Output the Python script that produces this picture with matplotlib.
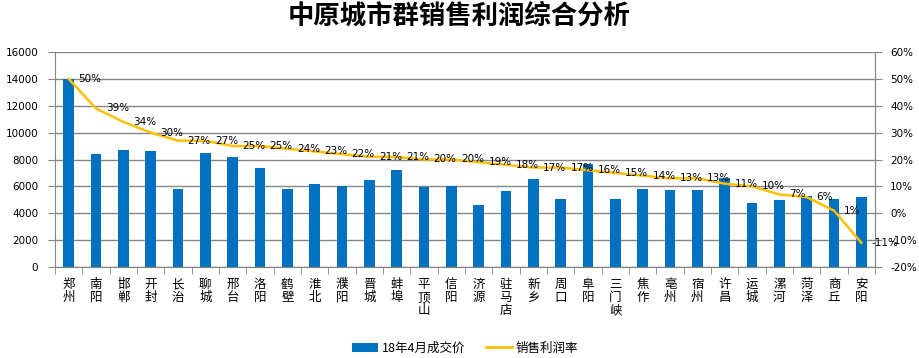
import matplotlib
matplotlib.use("Agg")
import matplotlib.pyplot as plt
from matplotlib.patches import Patch
from matplotlib.lines import Line2D
from matplotlib.ticker import FuncFormatter, MultipleLocator

plt.rcParams['font.family'] = ['Noto Sans CJK SC', 'DejaVu Sans']

cities = ["郑州", "南阳", "邯郸", "开封", "长治", "聊城", "邢台", "洛阳", "鹤壁", "淮北",
          "濮阳", "晋城", "蚌埠", "平顶山", "信阳", "济源", "驻马店", "新乡", "周口", "阜阳",
          "三门峡", "焦作", "亳州", "宿州", "许昌", "运城", "漯河", "菏泽", "商丘", "安阳"]
prices = [14000, 8400, 8700, 8620, 5800, 8480, 8180, 7360, 5800, 6170,
          6020, 6470, 7210, 5950, 6020, 4610, 5650, 6540, 5060, 7660,
          5060, 5800, 5720, 5720, 6600, 4760, 4980, 5280, 5060, 5200]
margins = [50, 39, 34, 30, 27, 27, 25, 25, 24, 23,
           22, 21, 21, 20, 20, 19, 18, 17, 17, 16,
           15, 14, 13, 13, 11, 10, 7, 6, 1, -11]

title = "中原城市群销售利润综合分析"
bar_label = "18年4月成交价"
line_label = "销售利润率"

BLUE = "#0070C0"
GOLD = "#FFC000"
GRID = "#868686"

fig = plt.figure(figsize=(9.19, 3.58), dpi=100)
ax = fig.add_axes([55/919, 1-267/358, (875-55)/919, (267-52)/358])
ax2 = ax.twinx()

x = list(range(len(cities)))
ax.bar(x, prices, width=0.4, color=BLUE, zorder=2)
ax.set_xlim(-0.5, len(cities)-0.5)
ax.set_ylim(0, 16000)
ax.yaxis.set_major_locator(MultipleLocator(2000))
ax.grid(axis='y', color=GRID, linewidth=1, zorder=0)
ax.set_axisbelow(True)

ax2.plot(x, [m/100 for m in margins], color=GOLD, linewidth=1.8, zorder=3)
ax2.set_ylim(-0.2, 0.6)
ax2.yaxis.set_major_locator(MultipleLocator(0.1))
ax2.yaxis.set_major_formatter(FuncFormatter(lambda v, p: f"{round(v*100):d}%"))

for xi, m in zip(x, margins):
    ax2.annotate(f"{m}%", (xi, m/100), xytext=(7, 0), textcoords='offset points',
                 ha='left', va='center', fontsize=7.5, color='black',
                 family=['DejaVu Sans'], zorder=5)

# spines
for a in (ax, ax2):
    a.spines['top'].set_visible(False)
    a.spines['left'].set_color(GRID)
    a.spines['right'].set_color(GRID)
    a.spines['bottom'].set_color(GRID)
ax2.spines['left'].set_visible(False)

ax.tick_params(axis='y', length=5, color=GRID, labelsize=7.5, pad=7)
ax2.tick_params(axis='y', length=5, color=GRID, labelsize=7.5, pad=6)
for lab in ax.get_yticklabels() + ax2.get_yticklabels():
    lab.set_family(['DejaVu Sans'])

ax.set_xticks(x)
ax.set_xticklabels(["\n".join(c) for c in cities], fontsize=9, linespacing=1.0,
                   va='top')
ax.set_xticks([i - 0.5 for i in range(len(cities)+1)], minor=True)
ax.tick_params(axis='x', which='major', length=0, pad=8)
ax.tick_params(axis='x', which='minor', length=5, color=GRID)

fig.text(0.5, 1-16/358, title, ha='center', va='center', fontsize=19,
         fontweight='bold')

handles = [Patch(facecolor=BLUE, edgecolor='none', label=bar_label),
           Line2D([], [], color=GOLD, linewidth=2, label=line_label)]
fig.legend(handles=handles, loc='center', bbox_to_anchor=(465/919, 1-348/358),
           ncol=2, frameon=False, fontsize=9, handlelength=2.1, handleheight=0.7,
           handletextpad=0.3, columnspacing=1.6, borderpad=0)

fig.savefig("out.png", dpi=100)
